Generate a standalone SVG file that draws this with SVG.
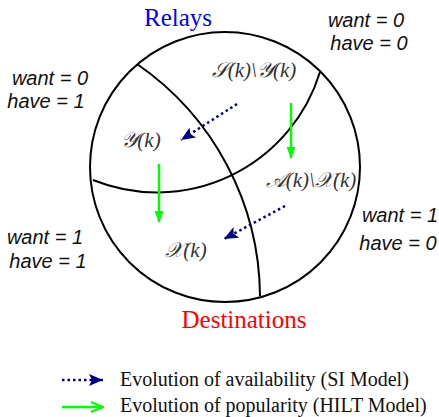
<svg xmlns="http://www.w3.org/2000/svg" width="439" height="417" viewBox="0 0 439 417">
<style>
.line{fill:none;stroke:#000;stroke-width:2}
.wh{font-family:"Liberation Sans",Arial,sans-serif;font-style:italic;font-size:20px;fill:#111}
.math{font-family:"Liberation Serif","DejaVu Serif",serif;font-style:italic;font-size:21px;fill:#333}
.leg{font-family:"Liberation Serif","Times New Roman",serif;font-size:20px;fill:#111}
.big{font-family:"Liberation Serif","Times New Roman",serif;font-size:25px}
.si{fill:none;stroke:#00008B;stroke-width:2.5;stroke-dasharray:2.5,3}
.hilt{fill:none;stroke:#00FF00;stroke-width:2.5}
</style>
<defs>
<marker id="bh" markerUnits="userSpaceOnUse" markerWidth="16" markerHeight="12" refX="14" refY="6" orient="auto">
<path d="M0,0 L14,6 L0,12 L3,6 Z" fill="#00008B"/>
</marker>
<marker id="gh" markerUnits="userSpaceOnUse" markerWidth="12" markerHeight="18" refX="15" refY="6" orient="auto" viewBox="0 0 16 12">
<path d="M0,0 L16,6 L0,12 Z" fill="#00FF00"/>
</marker>
<marker id="gl" markerUnits="userSpaceOnUse" markerWidth="14" markerHeight="12" refX="13" refY="6" orient="auto">
<path d="M1,1 L13,6 L1,11" fill="none" stroke="#00FF00" stroke-width="2"/>
</marker>
</defs>
<g id="sphere">
<circle cx="225" cy="167" r="135" class="line"/>
<path class="line" d="M137,64 A284,284 0 0 1 260,296"/>
<path class="line" d="M320,72 A170.5,170.5 0 0 1 93,180"/>
</g>
<g id="titles">
<text class="big" x="178" y="26" text-anchor="middle" fill="#0000FF">Relays</text>
<text class="big" x="244" y="328" text-anchor="middle" fill="#FF0000">Destinations</text>
</g>
<g id="node-SY"><text class="math" x="254" y="77" text-anchor="middle">𝒮(k)\𝒴(k)</text></g>
<g id="node-Y"><text class="math" x="141" y="147" text-anchor="middle">𝒴(k)</text></g>
<g id="node-AX"><text class="math" x="311" y="187" text-anchor="middle">𝒜(k)\𝒳(k)</text></g>
<g id="node-X"><text class="math" x="186" y="257" text-anchor="middle">𝒳(k)</text></g>
<g id="states">
<text class="wh" x="366" y="27" text-anchor="middle">want = 0</text>
<text class="wh" x="369" y="50" text-anchor="middle">have = 0</text>
<text class="wh" x="50" y="85" text-anchor="middle">want = 0</text>
<text class="wh" x="46" y="108" text-anchor="middle">have = 1</text>
<text class="wh" x="400" y="222" text-anchor="middle">want = 1</text>
<text class="wh" x="398" y="250" text-anchor="middle">have = 0</text>
<text class="wh" x="45" y="244" text-anchor="middle">want = 1</text>
<text class="wh" x="48" y="268" text-anchor="middle">have = 1</text>
</g>
<g id="connectors">
<line class="si" x1="237" y1="104" x2="181" y2="140" marker-end="url(#bh)"/>
<line class="si" x1="285" y1="206" x2="224" y2="239" marker-end="url(#bh)"/>
<line class="hilt" x1="291" y1="103" x2="291" y2="158" marker-end="url(#gh)"/>
<line class="hilt" x1="159" y1="164" x2="159" y2="222" marker-end="url(#gh)"/>
</g>
<g id="legend">
<line class="si" x1="62" y1="380" x2="103" y2="380" marker-end="url(#bh)"/>
<text class="leg" x="120" y="386">Evolution of availability (SI Model)</text>
<line class="hilt" x1="62" y1="407" x2="103" y2="407" marker-end="url(#gl)"/>
<text class="leg" x="120" y="412">Evolution of popularity (HILT Model)</text>
</g>
</svg>
